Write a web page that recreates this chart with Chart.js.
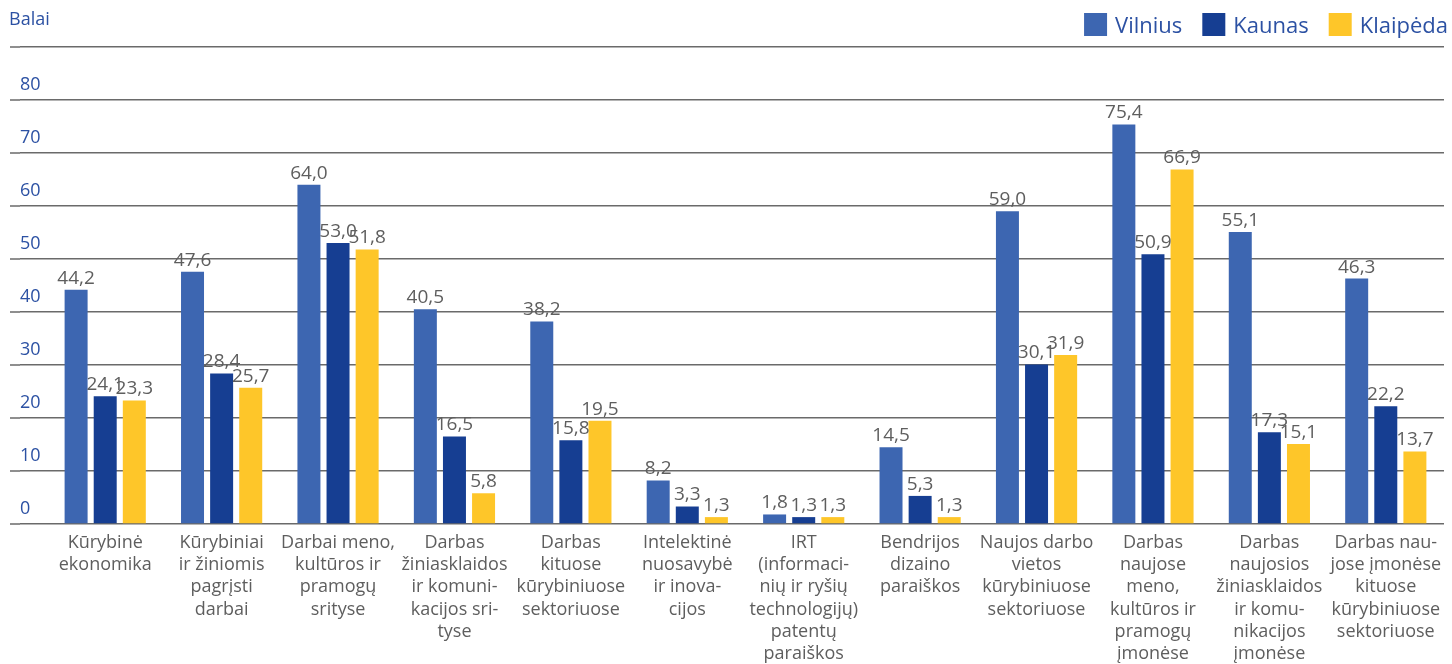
<!DOCTYPE html>
<html>
<head>
<meta charset="utf-8">
<script src="https://cdn.jsdelivr.net/npm/chart.js@4.4.0/dist/chart.umd.min.js"></script>
<style>
  body { margin: 0; background: #fff; }
  canvas { display: block; }
</style>
</head>
<body>
<canvas id="chart" width="1452" height="664"></canvas>
<script>
// Categories (multi-line labels as in the original)
const categories = [
  ['Kūrybinė', 'ekonomika'],
  ['Kūrybiniai', 'ir žiniomis', 'pagrįsti', 'darbai'],
  ['Darbai meno,', 'kultūros ir', 'pramogų', 'srityse'],
  ['Darbas', 'žiniasklaidos', 'ir komuni-', 'kacijos sri-', 'tyse'],
  ['Darbas', 'kituose', 'kūrybiniuose', 'sektoriuose'],
  ['Intelektinė', 'nuosavybė', 'ir inova-', 'cijos'],
  ['IRT', '(informaci-', 'nių ir ryšių', 'technologijų)', 'patentų', 'paraiškos'],
  ['Bendrijos', 'dizaino', 'paraiškos'],
  ['Naujos darbo', 'vietos', 'kūrybiniuose', 'sektoriuose'],
  ['Darbas', 'naujose', 'meno,', 'kultūros ir', 'pramogų', 'įmonėse'],
  ['Darbas', 'naujosios', 'žiniasklaidos', 'ir komu-', 'nikacijos', 'įmonėse'],
  ['Darbas nau-', 'jose įmonėse', 'kituose', 'kūrybiniuose', 'sektoriuose']
];

const vilnius  = [44.2, 47.6, 64.0, 40.5, 38.2, 8.2, 1.8, 14.5, 59.0, 75.4, 55.1, 46.3];
const kaunas   = [24.1, 28.4, 53.0, 16.5, 15.8, 3.3, 1.3, 5.3, 30.1, 50.9, 17.3, 22.2];
const klaipeda = [23.3, 25.7, 51.8, 5.8, 19.5, 1.3, 1.3, 1.3, 31.9, 66.9, 15.1, 13.7];

const seriesNames = ['Vilnius', 'Kaunas', 'Klaipėda'];
const yTicks = [0, 10, 20, 30, 40, 50, 60, 70, 80];

const FONT = '"Open Sans", sans-serif';
const BLUE_TEXT = '#2c51a3';
const GREY_TEXT = '#5e5e5e';
const GRID = '#6a6a6a';

// value labels above bars, comma decimal
const valueLabels = {
  id: 'valueLabels',
  afterDatasetsDraw(chart) {
    const ctx = chart.ctx;
    ctx.save();
    ctx.font = '19px ' + FONT;
    ctx.fillStyle = GREY_TEXT;
    ctx.textAlign = 'center';
    ctx.textBaseline = 'bottom';
    chart.data.datasets.forEach((ds, i) => {
      chart.getDatasetMeta(i).data.forEach((bar, j) => {
        ctx.fillText(ds.data[j].toFixed(1).replace('.', ','), bar.x, bar.y - 2);
      });
    });
    ctx.restore();
  }
};

// "Balai", legend and grid extension to the left edge
const decorations = {
  id: 'decorations',
  afterDraw(chart) {
    const ctx = chart.ctx;
    const yScale = chart.scales.y;
    ctx.save();
    ctx.strokeStyle = GRID;
    ctx.lineWidth = 1.5;
    yScale.ticks.forEach(t => {
      const y = yScale.getPixelForValue(t.value);
      ctx.beginPath();
      ctx.moveTo(10, y);
      ctx.lineTo(yScale.left, y);
      ctx.stroke();
    });

    ctx.font = '18px ' + FONT;
    ctx.fillStyle = BLUE_TEXT;
    ctx.textBaseline = 'middle';
    ctx.textAlign = 'left';
    ctx.fillText('Balai', 9, 20);

    // legend, right aligned
    ctx.font = '22px ' + FONT;
    let x = 1448;
    const items = chart.data.datasets.map(d => ({ text: d.label, color: d.backgroundColor }));
    for (let i = items.length - 1; i >= 0; i--) {
      const w = ctx.measureText(items[i].text).width;
      x -= w;
      ctx.fillStyle = BLUE_TEXT;
      ctx.fillText(items[i].text, x, 27);
      x -= 8 + 23;
      ctx.fillStyle = items[i].color;
      ctx.fillRect(x, 13, 23, 23);
      x -= 20;
    }
    ctx.restore();
  }
};

new Chart(document.getElementById('chart'), {
  type: 'bar',
  data: {
    labels: categories,
    datasets: [
      { label: seriesNames[0], data: vilnius, backgroundColor: '#3d66b1' },
      { label: seriesNames[1], data: kaunas, backgroundColor: '#163e92' },
      { label: seriesNames[2], data: klaipeda, backgroundColor: '#fec629' }
    ]
  },
  options: {
    responsive: false,
    animation: false,
    devicePixelRatio: 1,
    layout: { padding: { top: 47, left: 20, right: 8, bottom: 0 } },
    datasets: {
      bar: { categoryPercentage: 0.75, barPercentage: 0.79 }
    },
    plugins: {
      legend: { display: false },
      tooltip: { enabled: false }
    },
    scales: {
      x: {
        afterFit(scale) { scale.height = 140; },
        grid: { display: false, drawTicks: false },
        border: { display: false },
        ticks: {
          autoSkip: false,
          maxRotation: 0,
          minRotation: 0,
          padding: 8,
          color: GREY_TEXT,
          font: { family: FONT, size: 18, lineHeight: 1.23 }
        }
      },
      y: {
        min: 0,
        max: 90,
        afterFit(scale) { scale.width = 27; },
        afterBuildTicks(scale) {
          scale.ticks = yTicks.concat([90]).map(v => ({ value: v }));
        },
        border: { display: false },
        grid: {
          color: GRID,
          lineWidth: 1.5,
          tickLength: 27,
          tickColor: GRID
        },
        ticks: {
          crossAlign: 'far',
          labelOffset: -15,
          color: BLUE_TEXT,
          font: { family: FONT, size: 18 },
          callback: v => (v === 90 ? '' : v)
        }
      }
    }
  },
  plugins: [valueLabels, decorations]
});
</script>
</body>
</html>
